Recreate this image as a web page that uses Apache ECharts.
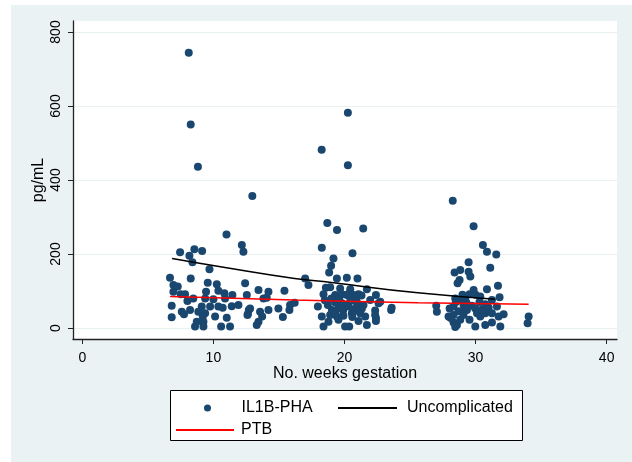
<!DOCTYPE html>
<html>
<head>
<meta charset="utf-8">
<script src="https://cdn.jsdelivr.net/npm/echarts/dist/echarts.min.js"></script>
<style>
  html, body { margin: 0; padding: 0; background: #fff; }
  #chart { width: 632px; height: 462px; }
</style>
</head>
<body>
<div id="chart"></div>
<script>
// weeks of gestation / IL1B-PHA (pg/mL), one list per visit window
var visitEarly = [
  [8.12, 744], [8.27, 550], [8.82, 436], [12.97, 357], [11.0, 253], [12.17, 224],
  [7.46, 205], [8.55, 213], [9.14, 208], [8.17, 195], [8.4, 178], [9.7, 159], [12.29, 206],
  [6.69, 136], [8.27, 134], [12.42, 121], [6.95, 116], [7.28, 112], [9.57, 122], [10.26, 118],
  [6.95, 98], [7.51, 91], [7.84, 91], [9.44, 98], [10.38, 101], [10.84, 94], [11.45, 89],
  [12.55, 89], [13.44, 103], [14.2, 98], [15.42, 101],
  [8.02, 73], [8.47, 80], [9.37, 80], [10.0, 78], [10.89, 80], [13.82, 80], [14.07, 82], [15.85, 62],
  [6.82, 60], [9.11, 58], [9.75, 58], [10.38, 58], [10.71, 55], [11.4, 59], [11.91, 62],
  [12.8, 53], [14.96, 53], [12.7, 49],
  [8.22, 49], [7.59, 44], [7.76, 37], [8.85, 44], [9.37, 40], [12.63, 38], [13.56, 44],
  [14.2, 49], [15.8, 49],
  [6.82, 29], [9.19, 31], [10.13, 31], [11.02, 28], [12.6, 35], [13.72, 31], [15.3, 30],
  [8.73, 17], [9.24, 17], [8.6, 4], [9.24, 4], [10.59, 4], [11.27, 4], [13.31, 8], [13.44, 17],
  [16.2, 68]
];
var visitMid = [
  [20.26, 582], [18.26, 482], [20.26, 440], [18.69, 284], [19.43, 265], [21.43, 269],
  [18.27, 217], [20.61, 202], [19.16, 188], [18.98, 168], [18.83, 150], [17.0, 134], [17.25, 116],
  [19.42, 134], [20.18, 136], [20.99, 134],
  [18.58, 109], [18.91, 110], [19.67, 107], [20.44, 105], [21.71, 105], [22.4, 89],
  [18.4, 91], [19.29, 89], [19.8, 91], [20.18, 89], [20.69, 89], [21.07, 91],
  [17.97, 58], [18.73, 62], [19.29, 69], [19.8, 67], [20.44, 73], [20.95, 69], [21.45, 62],
  [21.96, 76], [22.73, 71], [23.56, 49], [23.6, 55],
  [19.04, 49], [19.54, 53], [20.31, 58], [20.82, 53], [21.33, 53], [22.34, 47],
  [18.27, 31], [18.91, 35], [19.42, 31], [19.92, 33], [20.56, 40], [21.2, 40], [22.34, 35],
  [18.4, 4], [20.05, 4], [20.36, 4], [21.07, 19], [21.71, 8], [22.4, 19], [22.4, 27],
  [19.54, 22], [18.78, 17], [22.6, 67], [21.58, 31],
  [19.6, 78], [20.0, 62], [20.7, 45], [19.3, 40], [21.0, 60], [20.3, 92], [19.0, 80],
  [18.5, 75], [20.9, 80], [21.3, 88], [19.9, 48], [20.6, 30]
];
var visitLate = [
  [28.26, 344], [29.85, 275],
  [30.56, 224], [30.87, 206], [31.58, 199], [29.47, 178], [31.12, 163], [28.4, 150], [28.83, 157],
  [29.47, 152], [29.6, 139], [28.63, 121], [28.78, 130], [30.87, 105], [31.71, 114], [29.85, 103],
  [29.54, 91], [30.36, 85], [31.83, 83], [28.45, 80], [28.83, 76], [29.21, 78], [31.25, 76],
  [27.0, 60], [27.05, 44], [28.02, 53], [28.32, 58], [29.08, 62], [29.73, 60], [29.98, 53],
  [30.74, 64], [31.63, 58],
  [27.94, 31], [28.32, 35], [28.96, 44], [29.34, 49], [30.11, 40], [30.74, 40], [31.25, 40], [32.14, 37],
  [28.32, 15], [28.58, 8], [29.98, 4], [30.74, 8], [31.25, 15], [31.89, 4], [34.05, 31], [33.97, 13],
  [29.54, 22], [28.83, 22], [31.76, 31], [30.36, 31], [29.08, 35],
  [28.5, 70], [29.3, 68], [30.3, 70], [30.0, 90], [29.0, 90], [28.7, 45], [30.5, 50], [31.0, 55],
  [28.1, 27], [28.45, 3]
];

// fitted curves, read at a few points along each line
var uncomplicatedFit = [[6.85, 188], [11.0, 163], [16.2, 134], [19.0, 123], [25.6, 95], [31.5, 78]];
var ptbFit = [[6.7, 85], [16.2, 76], [25.6, 68.5], [34.05, 64]];

var xTicks = [0, 10, 20, 30, 40];
var yTicks = [0, 200, 400, 600, 800];

var FONT = 'Liberation Sans, Arial, sans-serif';
var axisColor = '#222';
var gridColor = '#E8F0F2';

var chart = echarts.init(document.getElementById('chart'));
chart.setOption({
  backgroundColor: '#fff',
  animation: false,
  graphic: [
    { type: 'rect', z: -10, shape: { x: 11, y: 5, width: 621, height: 457 }, style: { fill: '#EAF2F3' } },
    { type: 'rect', z: 1, shape: { x: 170.5, y: 390.5, width: 352, height: 50 }, style: { fill: '#fff', stroke: '#000', lineWidth: 1 } }
  ],
  grid: {
    left: 73, right: 15, top: 21, bottom: 123,
    show: true, backgroundColor: '#fff', borderWidth: 0
  },
  xAxis: {
    type: 'value',
    min: -0.71, max: 40.79,
    name: 'No. weeks gestation',
    nameLocation: 'middle',
    nameGap: 27,
    nameMoveOverlap: false,
    nameTextStyle: { fontSize: 16, color: '#000', fontFamily: FONT },
    axisLine: { show: true, onZero: false, lineStyle: { color: axisColor, width: 1.3 } },
    axisTick: { show: true, length: 5, customValues: xTicks, lineStyle: { color: axisColor } },
    axisLabel: { customValues: xTicks, fontSize: 14, color: '#000', fontFamily: FONT, margin: 12 },
    splitLine: { show: false }
  },
  yAxis: {
    type: 'value',
    min: -29.7, max: 829.7,
    name: 'pg/mL',
    nameLocation: 'middle',
    nameGap: 26,
    nameMoveOverlap: false,
    nameTextStyle: { fontSize: 16, color: '#000', fontFamily: FONT },
    axisLine: { show: true, onZero: false, lineStyle: { color: axisColor, width: 1.3 } },
    axisTick: { show: true, length: 5, customValues: yTicks, lineStyle: { color: axisColor } },
    axisLabel: { customValues: yTicks, rotate: 90, fontSize: 14, color: '#000', fontFamily: FONT, margin: 10 },
    splitLine: { show: true, lineStyle: { color: gridColor, width: 1 } }
  },
  legend: [
    {
      data: [{ name: 'IL1B-PHA', icon: 'circle' }],
      left: 199, top: 395, itemWidth: 58, itemHeight: 7, selectedMode: false, z: 5,
      textStyle: { fontSize: 16, color: '#000', fontFamily: FONT }
    },
    {
      data: ['Uncomplicated'],
      left: 332, top: 395, itemWidth: 59, itemHeight: 16, selectedMode: false, z: 5,
      itemStyle: { opacity: 0 },
      textStyle: { fontSize: 16, color: '#000', fontFamily: FONT, padding: [0, 0, 0, 5] }
    },
    {
      data: ['PTB'],
      left: 170, top: 417, itemWidth: 58, itemHeight: 16, selectedMode: false, z: 5,
      itemStyle: { opacity: 0 },
      textStyle: { fontSize: 16, color: '#000', fontFamily: FONT, padding: [0, 0, 0, 2] }
    }
  ],
  series: [
    {
      name: 'IL1B-PHA',
      type: 'scatter',
      symbol: 'circle',
      symbolSize: 8,
      itemStyle: { color: '#1A476F', opacity: 1 },
      data: visitEarly.concat(visitMid, visitLate)
    },
    {
      name: 'Uncomplicated',
      type: 'line',
      smooth: true,
      symbol: 'none',
      lineStyle: { color: '#000', width: 1.5 },
      itemStyle: { color: '#000' },
      data: uncomplicatedFit
    },
    {
      name: 'PTB',
      type: 'line',
      smooth: true,
      symbol: 'none',
      lineStyle: { color: '#FF0000', width: 1.5 },
      itemStyle: { color: '#FF0000' },
      data: ptbFit
    }
  ]
});
</script>
</body>
</html>
